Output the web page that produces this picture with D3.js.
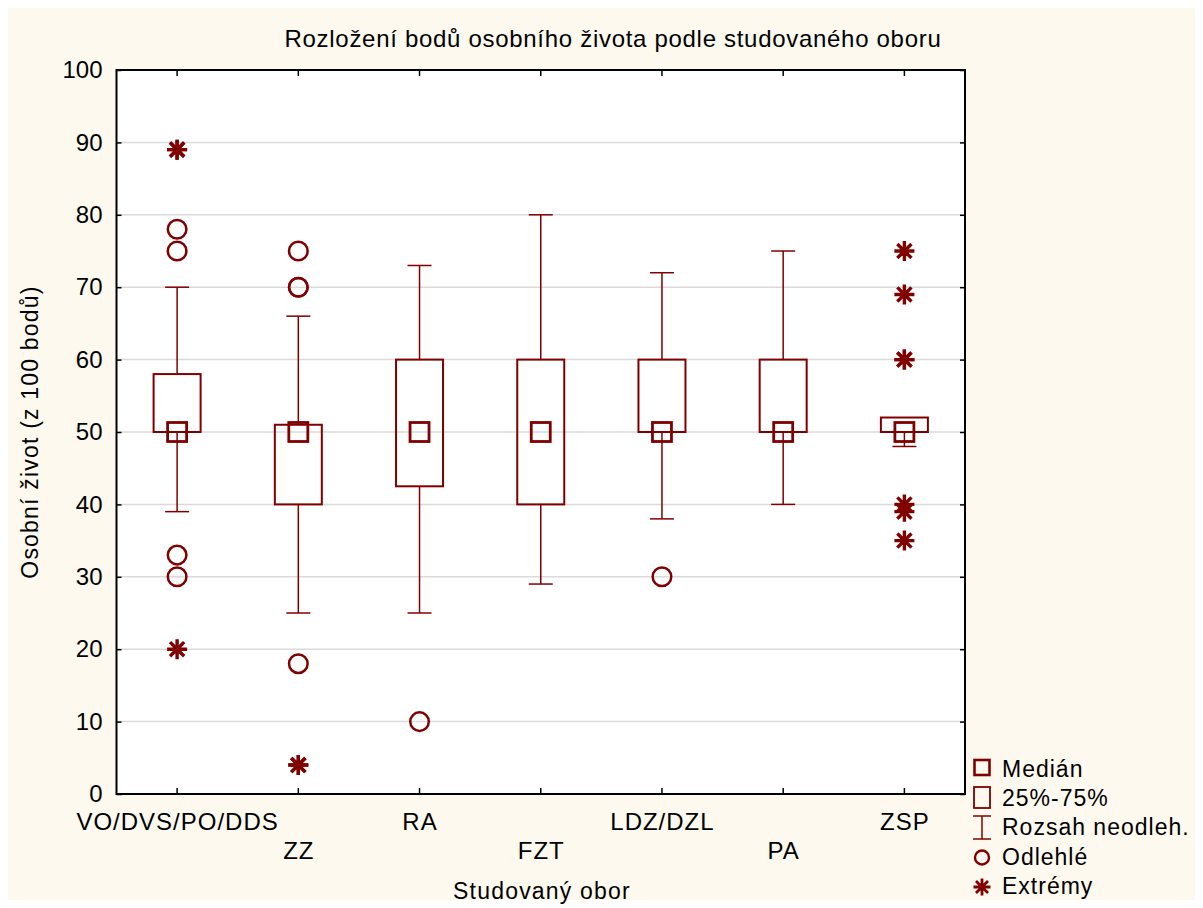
<!DOCTYPE html>
<html>
<head>
<meta charset="utf-8">
<script src="https://cdn.jsdelivr.net/npm/d3@7"></script>
<style>
  html, body { margin: 0; padding: 0; background: #ffffff; }
  svg { display: block; font-family: "Liberation Sans", Arial, sans-serif; }
</style>
</head>
<body>
<svg id="chart" width="1203" height="908"></svg>
<script>
// ---- DATA ----
const categories = ["VO/DVS/PO/DDS", "ZZ", "RA", "FZT", "LDZ/DZL", "PA", "ZSP"];
const medians    = [50, 50, 50, 50, 50, 50, 50];
const q1         = [50, 40, 42.5, 40, 50, 50, 50];
const q3         = [58, 51, 60, 60, 60, 60, 52];
const whiskerLo  = [39, 25, 25, 29, 38, 40, 48];
const whiskerHi  = [70, 66, 73, 80, 72, 75, 52];
const outliers   = [[78, 75, 33, 30], [75, 70, 70, 18], [10], [], [30], [], []];
const extremes   = [[89, 89, 20], [4, 4], [], [], [], [], [75, 69, 60, 60, 40, 39, 35]];
const yTicks     = [0, 10, 20, 30, 40, 50, 60, 70, 80, 90, 100];
const title      = "Rozložení bodů osobního života podle studovaného oboru";
const xTitle     = "Studovaný obor";
const yTitle     = "Osobní život (z 100 bodů)";
const legendLabels = ["Medián", "25%-75%", "Rozsah neodleh.", "Odlehlé", "Extrémy"];

// ---- LAYOUT ----
const RED = "#800000";
const svg = d3.select("#chart");
const L = 116.5, R = 965, T = 70, B = 794;

svg.append("rect").attr("x", 8).attr("y", 8).attr("width", 1187).attr("height", 892).attr("fill", "#fdf9ef");
svg.append("rect").attr("x", L).attr("y", T).attr("width", R - L).attr("height", B - T).attr("fill", "#ffffff");

const x = d3.scaleBand().domain(categories).range([L, R]).paddingInner(0).paddingOuter(0);
const cx = c => x(c) + x.bandwidth() / 2;
const y = d3.scaleLinear().domain([0, 100]).range([B, T]);

// grid
svg.append("g").selectAll("line").data(yTicks.filter(t => t > 0 && t < 100)).join("line")
  .attr("x1", L).attr("x2", R).attr("y1", d => y(d)).attr("y2", d => y(d))
  .attr("stroke", "#dadada").attr("stroke-width", 1.5);

// y axis left
const yAxis = svg.append("g").attr("transform", `translate(${L},0)`)
  .call(d3.axisLeft(y).tickValues(yTicks).tickSizeInner(-5).tickSizeOuter(0).tickPadding(14));
yAxis.select(".domain").remove();
yAxis.selectAll("line").attr("stroke", "#000").attr("stroke-width", 1.5);
yAxis.selectAll("text").attr("font-size", 24).attr("fill", "#000").attr("font-family", "Liberation Sans, Arial, sans-serif");

// y axis right ticks
const yAxisR = svg.append("g").attr("transform", `translate(${R},0)`)
  .call(d3.axisRight(y).tickValues(yTicks).tickSizeInner(-5).tickSizeOuter(0).tickFormat(""));
yAxisR.select(".domain").remove();
yAxisR.selectAll("line").attr("stroke", "#000").attr("stroke-width", 1.5);

// x axis ticks bottom & top
const xAxisB = svg.append("g").attr("transform", `translate(0,${B})`)
  .call(d3.axisBottom(x).tickSizeInner(-6).tickSizeOuter(0).tickFormat(""));
xAxisB.select(".domain").remove();
xAxisB.selectAll("line").attr("stroke", "#000").attr("stroke-width", 1.5);
const xAxisT = svg.append("g").attr("transform", `translate(0,${T})`)
  .call(d3.axisTop(x).tickSizeInner(-6).tickSizeOuter(0).tickFormat(""));
xAxisT.select(".domain").remove();
xAxisT.selectAll("line").attr("stroke", "#000").attr("stroke-width", 1.5);

// x labels alternating
svg.append("g").selectAll("text").data(categories).join("text")
  .attr("x", d => cx(d) + 0.5).attr("y", (d, i) => i % 2 === 0 ? 829.5 : 858.5)
  .attr("text-anchor", "middle").attr("font-size", 24).attr("letter-spacing", 1.0).attr("fill", "#000")
  .text(d => d);

// boxes
const bw = 47, capW = 24, medS = 19;
categories.forEach((c, i) => {
  const g = svg.append("g");
  const xc = cx(c);
  if (whiskerHi[i] > q3[i]) {
    g.append("line").attr("x1", xc).attr("x2", xc).attr("y1", y(q3[i])).attr("y2", y(whiskerHi[i])).attr("stroke", RED).attr("stroke-width", 1.5);
    g.append("line").attr("x1", xc - capW / 2).attr("x2", xc + capW / 2).attr("y1", y(whiskerHi[i])).attr("y2", y(whiskerHi[i])).attr("stroke", RED).attr("stroke-width", 1.5);
  }
  if (whiskerLo[i] < q1[i]) {
    g.append("line").attr("x1", xc).attr("x2", xc).attr("y1", y(q1[i])).attr("y2", y(whiskerLo[i])).attr("stroke", RED).attr("stroke-width", 1.5);
    g.append("line").attr("x1", xc - capW / 2).attr("x2", xc + capW / 2).attr("y1", y(whiskerLo[i])).attr("y2", y(whiskerLo[i])).attr("stroke", RED).attr("stroke-width", 1.5);
  }
  g.append("rect").attr("x", xc - bw / 2).attr("y", y(q3[i])).attr("width", bw).attr("height", Math.max(0, y(q1[i]) - y(q3[i])))
    .attr("fill", "none").attr("stroke", RED).attr("stroke-width", 2);
  g.append("rect").attr("x", xc - medS / 2).attr("y", y(medians[i]) - medS / 2).attr("width", medS).attr("height", medS)
    .attr("fill", "none").attr("stroke", RED).attr("stroke-width", 2.8);
  outliers[i].forEach(v => {
    g.append("circle").attr("cx", xc).attr("cy", y(v)).attr("r", 9.3).attr("fill", "none").attr("stroke", RED).attr("stroke-width", 2.5);
  });
  extremes[i].forEach(v => drawStar(g, xc, y(v), 10, 3.4));
});

function drawStar(g, px, py, r, sw) {
  const d = r * Math.SQRT1_2;
  const path = `M${px},${py - r}L${px},${py + r}M${px - r},${py}L${px + r},${py}M${px - d},${py - d}L${px + d},${py + d}M${px - d},${py + d}L${px + d},${py - d}`;
  g.append("path").attr("d", path).attr("stroke", RED).attr("stroke-width", sw).attr("fill", "none");
}

// frame
svg.append("rect").attr("x", L).attr("y", T).attr("width", R - L).attr("height", B - T)
  .attr("fill", "none").attr("stroke", "#000").attr("stroke-width", 2);

// titles
svg.append("text").attr("x", 613).attr("y", 47).attr("text-anchor", "middle").attr("font-size", 24).attr("letter-spacing", 0.7).attr("fill", "#000").text(title);
svg.append("text").attr("x", 542).attr("y", 899).attr("text-anchor", "middle").attr("font-size", 23).attr("letter-spacing", 1.2).attr("fill", "#000").text(xTitle);
svg.append("text").attr("transform", "translate(38,432) rotate(-90)").attr("text-anchor", "middle").attr("font-size", 23).attr("letter-spacing", 1.2).attr("fill", "#000").text(yTitle);

// legend
const lg = svg.append("g");
const lx = 982, baselines = [777, 806, 835, 864.5, 894];
legendLabels.forEach((t, i) => {
  lg.append("text").attr("x", 1002).attr("y", baselines[i]).attr("font-size", 23).attr("letter-spacing", 1.0).attr("fill", "#000").text(t);
});
lg.append("rect").attr("x", lx - 7.5).attr("y", 760).attr("width", 15).attr("height", 15).attr("fill", "none").attr("stroke", RED).attr("stroke-width", 2.6);
lg.append("rect").attr("x", lx - 8).attr("y", 787).attr("width", 16).attr("height", 21).attr("fill", "none").attr("stroke", RED).attr("stroke-width", 1.8);
lg.append("line").attr("x1", lx).attr("x2", lx).attr("y1", 816).attr("y2", 839).attr("stroke", RED).attr("stroke-width", 1.5);
lg.append("line").attr("x1", lx - 9).attr("x2", lx + 9).attr("y1", 816).attr("y2", 816).attr("stroke", RED).attr("stroke-width", 1.5);
lg.append("line").attr("x1", lx - 9).attr("x2", lx + 9).attr("y1", 839).attr("y2", 839).attr("stroke", RED).attr("stroke-width", 1.5);
lg.append("circle").attr("cx", lx).attr("cy", 857.5).attr("r", 7).attr("fill", "none").attr("stroke", RED).attr("stroke-width", 2.4);
drawStar(lg, lx, 887, 8.5, 2.8);
</script>
</body>
</html>
